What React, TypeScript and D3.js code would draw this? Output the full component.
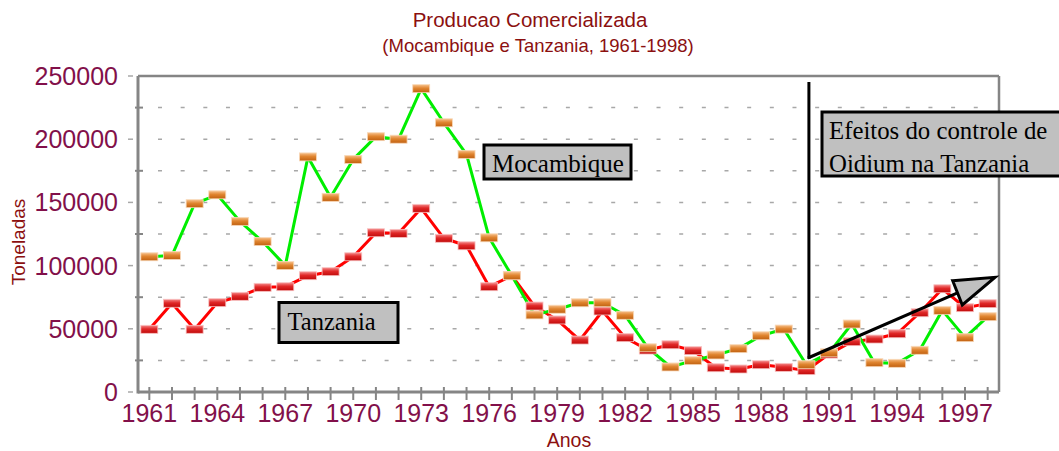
import * as d3 from 'd3';

const years = [
  1961, 1962, 1963, 1964, 1965, 1966, 1967, 1968, 1969, 1970,
  1971, 1972, 1973, 1974, 1975, 1976, 1977, 1978, 1979, 1980,
  1981, 1982, 1983, 1984, 1985, 1986, 1987, 1988, 1989, 1990,
  1991, 1992, 1993, 1994, 1995, 1996, 1997, 1998,
];

// Mocambique (linha verde, marcadores laranja)
const mocambique = [
  107000, 108000, 149000, 156000, 135000, 119000, 100000, 186000, 154000, 184000,
  202000, 200000, 240000, 213000, 188000, 122000, 92000, 61000, 65500, 70600,
  70600, 60700, 35000, 19800, 24800, 29300, 34300, 44500, 49800, 21600,
  31000, 53800, 23200, 22700, 33000, 64600, 43000, 59600,
];

// Tanzania (linha vermelha)
const tanzania = [
  49600, 70200, 49600, 70700, 75700, 82800, 83300, 92000, 95200, 107000,
  126000, 125500, 145300, 121600, 115700, 83300, 92000, 68000, 57000, 41100,
  64100, 43000, 33200, 37400, 32700, 19200, 18200, 21600, 19500, 16900,
  30000, 39800, 41900, 46100, 62700, 81700, 66700, 69900,
];

const yTicks = [0, 50000, 100000, 150000, 200000, 250000];
const gridTicks = [25000, 50000, 75000, 100000, 125000, 150000, 175000, 200000, 225000];
const yearLabels = [1961, 1964, 1967, 1970, 1973, 1976, 1979, 1982, 1985, 1988, 1991, 1994, 1997];

const W = 1059;
const H = 451;
const plot = { left: 138, right: 999, top: 76, bottom: 392 };

const titleColor = '#8b1010';
const tickColor = '#82104a';
const axisGrey = '#858585';

export default function App() {
  const x = d3.scalePoint<number>().domain(years).range([plot.left, plot.right]).padding(0.5);
  const y = d3.scaleLinear().domain([0, 250000]).range([plot.bottom, plot.top]);

  const line = d3
    .line<number>()
    .x((_, i) => x(years[i]) as number)
    .y((d) => y(d));

  const mw = 17;
  const mh = 8;

  const x1990 = (x(1990) as number) + 2.5;

  return (
    <svg width={W} height={H} style={{ position: 'absolute', left: 0, top: 0, background: '#fff' }}>
      <defs>
        <linearGradient id="gOrange" x1="0" y1="0" x2="0" y2="1">
          <stop offset="0" stopColor="#f7c08a" />
          <stop offset="0.45" stopColor="#e08530" />
          <stop offset="1" stopColor="#c06010" />
        </linearGradient>
        <linearGradient id="gRed" x1="0" y1="0" x2="0" y2="1">
          <stop offset="0" stopColor="#f58a8a" />
          <stop offset="0.45" stopColor="#e02828" />
          <stop offset="1" stopColor="#c00a0a" />
        </linearGradient>
      </defs>

      {/* titles */}
      <text x={530} y={27} textAnchor="middle" fontFamily="Liberation Sans, Arial, sans-serif" fontSize={20.5} fill={titleColor}>
        Producao Comercializada
      </text>
      <text x={538} y={52} textAnchor="middle" fontFamily="Liberation Sans, Arial, sans-serif" fontSize={18.5} fill={titleColor}>
        (Mocambique e Tanzania, 1961-1998)
      </text>

      {/* grid */}
      {gridTicks.map((t) => (
        <line
          key={'g' + t}
          x1={plot.left + 20}
          x2={plot.right - 12}
          y1={y(t)}
          y2={y(t)}
          stroke="#a8a8a8"
          strokeWidth={1.5}
          strokeDasharray="4 18.66"
        />
      ))}
      {yTicks.map((t) => (
        <line key={'mt' + t} x1={plot.left - 10} x2={plot.left - 5} y1={y(t)} y2={y(t)} stroke="#a8a8a8" strokeWidth={1.5} />
      ))}
      {gridTicks.filter((t) => t % 50000 !== 0).map((t) => (
        <line key={'lt' + t} x1={plot.left - 3} x2={plot.left + 5} y1={y(t)} y2={y(t)} stroke={axisGrey} strokeWidth={2} />
      ))}

      {/* frame */}
      <line x1={plot.left} x2={plot.right} y1={plot.top} y2={plot.top} stroke={axisGrey} strokeWidth={2.5} />
      <line x1={plot.right} x2={plot.right} y1={plot.top} y2={plot.bottom} stroke={axisGrey} strokeWidth={2.5} />
      <line x1={plot.left} x2={plot.left} y1={plot.top} y2={plot.bottom + 1.5} stroke={axisGrey} strokeWidth={3} />
      <line x1={plot.left} x2={plot.right} y1={plot.bottom} y2={plot.bottom} stroke={axisGrey} strokeWidth={3} />
      {years.map((yr) => (
        <line key={'xt' + yr} x1={x(yr)} x2={x(yr)} y1={plot.bottom - 5} y2={plot.bottom + 8} stroke={axisGrey} strokeWidth={2} />
      ))}

      {/* tick labels */}
      {yTicks.map((t) => (
        <text
          key={'yl' + t}
          x={118}
          y={y(t) + 9}
          textAnchor="end"
          fontFamily="Liberation Sans, Arial, sans-serif"
          fontSize={25}
          fill={tickColor}
        >
          {t}
        </text>
      ))}
      {yearLabels.map((yr) => (
        <text
          key={'xl' + yr}
          x={x(yr)}
          y={422}
          textAnchor="middle"
          fontFamily="Liberation Sans, Arial, sans-serif"
          fontSize={25}
          fill={tickColor}
        >
          {yr}
        </text>
      ))}

      {/* axis titles */}
      <text
        transform="translate(25,242) rotate(-90)"
        textAnchor="middle"
        fontFamily="Liberation Sans, Arial, sans-serif"
        fontSize={19}
        fill={titleColor}
      >
        Toneladas
      </text>
      <text x={569} y={447} textAnchor="middle" fontFamily="Liberation Sans, Arial, sans-serif" fontSize={19.5} fill={titleColor}>
        Anos
      </text>

      {/* series */}
      <path d={line(tanzania) ?? ''} fill="none" stroke="#ff0000" strokeWidth={3} strokeLinejoin="round" />
      <path d={line(mocambique) ?? ''} fill="none" stroke="#00ee00" strokeWidth={3} strokeLinejoin="round" />
      {tanzania.map((v, i) => (
        <rect
          key={'tz' + i}
          x={(x(years[i]) as number) - mw / 2}
          y={y(v) - mh / 2}
          width={mw}
          height={mh}
          fill="url(#gRed)"
          stroke="#f8c0c0"
          strokeWidth={0.8}
        />
      ))}
      {mocambique.map((v, i) => (
        <rect
          key={'mz' + i}
          x={(x(years[i]) as number) - mw / 2}
          y={y(v) - mh / 2}
          width={mw}
          height={mh}
          fill="url(#gOrange)"
          stroke="#f8d8b8"
          strokeWidth={0.8}
        />
      ))}

      {/* annotations */}
      <g fontFamily="Liberation Serif, Times New Roman, serif" fill="#000">
        <rect x={484} y={145} width={147} height={34} fill="#c0c0c0" stroke="#000" strokeWidth={3} />
        <text x={492} y={171.5} fontSize={25}>Mocambique</text>

        <rect x={279} y={302.5} width={119} height={40} fill="#c0c0c0" stroke="#000" strokeWidth={3} />
        <text x={287.5} y={330} fontSize={24.5}>Tanzania</text>

        <rect x={822} y={112} width={260} height={64} fill="#c0c0c0" stroke="#000" strokeWidth={3} />
        <text x={829} y={139} fontSize={24.8}>Efeitos do controle de</text>
        <text x={829} y={172} fontSize={24.8}>Oidium na Tanzania</text>
      </g>

      <line x1={x1990} x2={x1990} y1={82} y2={359} stroke="#000" strokeWidth={3} />
      <line x1={x1990 - 1} y1={358} x2={957.5} y2={292.8} stroke="#000" strokeWidth={3} />
      <polygon
        points="952.7,280.7 995,277.3 962.3,305"
        fill="#c0c0c0"
        stroke="#000"
        strokeWidth={3}
        strokeLinejoin="miter"
      />
    </svg>
  );
}
